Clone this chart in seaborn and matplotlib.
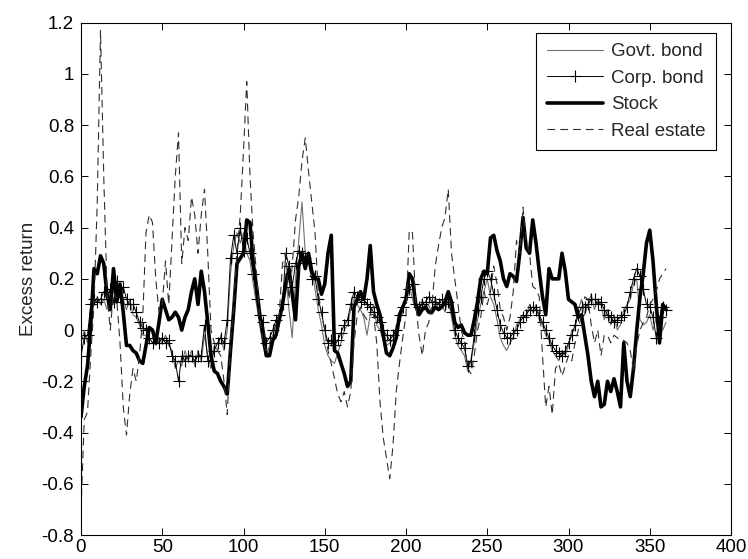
import matplotlib
matplotlib.use("Agg")
import matplotlib.pyplot as plt
import matplotlib.ticker as mticker
import numpy as np
import pandas as pd
import seaborn as sns

# ---------------- data (every 2nd month) ----------------
months = list(range(0, 361, 2))

stock = [
    -0.34, -0.22, -0.14, 0.02, 0.24, 0.22, 0.29, 0.26, 0.14, 0.08,
    0.24, 0.11, 0.18, 0.07, -0.06, -0.06, -0.08, -0.09, -0.12, -0.13,
    -0.06, 0.01, 0.0, -0.05, 0.03, 0.12, 0.08, 0.04, 0.05, 0.07,
    0.05, 0.0, 0.05, 0.08, 0.15, 0.2, 0.1, 0.23, 0.15, 0.03,
    -0.1, -0.16, -0.17, -0.2, -0.22, -0.25, -0.08, 0.08, 0.26, 0.28,
    0.3, 0.43, 0.42, 0.26, 0.17, 0.06, -0.02, -0.1, -0.1, -0.04,
    -0.02, 0.04, 0.1, 0.18, 0.24, 0.14, 0.04, 0.25, 0.3, 0.24,
    0.3, 0.23, 0.2, 0.2, 0.14, 0.18, 0.3, 0.37, -0.08, -0.09,
    -0.13, -0.17, -0.22, -0.2, 0.09, 0.12, 0.15, 0.12, 0.2, 0.33,
    0.15, 0.1, 0.06, -0.02, -0.09, -0.1, -0.07, -0.03, 0.06, 0.09,
    0.12, 0.22, 0.2, 0.1, 0.06, 0.08, 0.09, 0.07, 0.07, 0.09,
    0.08, 0.09, 0.11, 0.15, 0.11, 0.03, 0.01, 0.02, -0.01, -0.02,
    -0.02, 0.04, 0.11, 0.2, 0.23, 0.22, 0.36, 0.37, 0.31, 0.27,
    0.2, 0.17, 0.22, 0.21, 0.19, 0.3, 0.44, 0.32, 0.3, 0.43,
    0.34, 0.23, 0.13, 0.06, 0.24, 0.2, 0.2, 0.2, 0.3, 0.23,
    0.12, 0.11, 0.1, 0.05, 0.06, -0.02, -0.1, -0.2, -0.26, -0.2,
    -0.3, -0.29, -0.2, -0.24, -0.19, -0.24, -0.3, -0.05, -0.2, -0.26,
    -0.15, 0.0, 0.13, 0.22, 0.34, 0.39, 0.27, 0.1, -0.05, 0.1,
    0.08,
]

real_estate = [
    -0.7, -0.35, -0.32, -0.1, 0.1, 0.5, 1.17, 0.6, 0.15, 0.0,
    0.15, 0.12, -0.05, -0.3, -0.41, -0.25, -0.15, -0.2, -0.1, 0.05,
    0.38, 0.45, 0.42, 0.2, 0.07, 0.1, 0.27, 0.1, 0.35, 0.6,
    0.77, 0.26, 0.4, 0.35, 0.52, 0.45, 0.3, 0.45, 0.55, 0.3,
    0.0, -0.05, -0.08, -0.1, -0.2, -0.33, -0.05, 0.1, 0.31, 0.45,
    0.7, 0.97, 0.6, 0.37, 0.22, 0.05, -0.05, -0.08, -0.05, -0.02,
    0.03, 0.06, 0.26, 0.3, 0.12, 0.25, 0.43, 0.52, 0.66, 0.75,
    0.62, 0.5, 0.38, 0.15, 0.06, 0.0, -0.08, -0.13, -0.19, -0.25,
    -0.28, -0.24, -0.3, -0.24, -0.05, 0.06, 0.09, 0.06, 0.04, 0.06,
    0.06, -0.05, -0.28, -0.42, -0.5, -0.58, -0.45, -0.24, -0.13, -0.03,
    0.06, 0.39, 0.38, 0.1, -0.02, -0.1, 0.0, 0.03, 0.1, 0.25,
    0.33, 0.4, 0.44, 0.55, 0.3, 0.2, 0.1, 0.0, -0.05, -0.15,
    -0.17, -0.1, 0.0, 0.05, 0.15, 0.1, 0.15, 0.25, 0.18, 0.08,
    0.05, 0.0, 0.05, 0.15, 0.35, 0.3, 0.48, 0.34, 0.3, 0.17,
    0.16, 0.13, -0.1, -0.3, -0.22, -0.33, -0.15, -0.13, -0.18, -0.14,
    -0.1, -0.12, -0.05, 0.0, 0.06, 0.13, 0.12, 0.02, -0.05, 0.0,
    -0.1, -0.02, -0.02, -0.05, -0.02, -0.03, -0.04, -0.04, -0.05, -0.08,
    -0.16, -0.06, 0.0, 0.03, 0.05, 0.1, 0.12, 0.15, 0.2, 0.22,
    0.24,
]

corp_bond = [
    -0.1, -0.03, -0.02, 0.1, 0.12, 0.11, 0.12, 0.15, 0.12, 0.16,
    0.11, 0.19, 0.13, 0.17, 0.12, 0.1, 0.1, 0.07, 0.03, 0.01,
    0.0, -0.03, -0.05, -0.03, -0.05, -0.03, -0.05, -0.04, -0.1, -0.12,
    -0.2, -0.1, -0.12, -0.1, -0.1, -0.12, -0.1, -0.1, 0.02, -0.12,
    -0.12, -0.08, -0.05, -0.03, -0.05, 0.04, 0.28, 0.37, 0.3, 0.4,
    0.31, 0.36, 0.3, 0.22, 0.12, 0.06, 0.03, -0.05, -0.03, 0.0,
    0.04, 0.06, 0.1, 0.3, 0.25, 0.17, 0.26, 0.31, 0.3, 0.28,
    0.26, 0.2, 0.21, 0.12, 0.07, 0.0, -0.05, -0.04, -0.06, -0.04,
    -0.01, 0.02, 0.04, 0.1, 0.15, 0.13, 0.11, 0.12, 0.1, 0.09,
    0.07, 0.05, 0.03, 0.0, -0.02, -0.04, -0.02, 0.0, 0.06, 0.09,
    0.13, 0.16, 0.18, 0.1, 0.09, 0.1, 0.11, 0.13, 0.11, 0.11,
    0.1, 0.12, 0.1, 0.11, 0.07, 0.0, -0.03, -0.05, -0.07, -0.14,
    -0.12, -0.02, 0.08, 0.13, 0.2, 0.23, 0.2, 0.14, 0.08, 0.02,
    -0.01, -0.03, -0.03, -0.01, 0.0, 0.03, 0.05, 0.06, 0.08, 0.09,
    0.08, 0.06, 0.03, 0.0, -0.03, -0.06, -0.08, -0.09, -0.1, -0.08,
    -0.05, -0.02, 0.02, 0.06, 0.09, 0.09, 0.1, 0.12, 0.12, 0.1,
    0.11, 0.08, 0.06, 0.05, 0.03, 0.04, 0.05, 0.06, 0.09, 0.15,
    0.2, 0.24, 0.21, 0.16, 0.1, 0.09, 0.05, -0.03, 0.05, 0.09,
    0.08,
]

govt_bond = [
    -0.05, 0.0, -0.05, 0.08, 0.1, 0.13, 0.1, 0.12, 0.08, 0.14,
    0.1, 0.16, 0.15, 0.12, 0.08, 0.12, 0.06, 0.05, 0.02, -0.02,
    -0.02, -0.04, -0.03, -0.06, -0.03, -0.05, -0.02, -0.06, -0.08, -0.15,
    -0.12, -0.14, -0.08, -0.12, -0.08, -0.14, -0.08, -0.12, -0.02, -0.1,
    -0.15, -0.06, -0.08, -0.02, -0.08, 0.0, 0.22, 0.33, 0.38, 0.34,
    0.38, 0.3, 0.27, 0.18, 0.1, 0.02, -0.06, -0.1, -0.06, -0.02,
    0.02, 0.04, 0.12, 0.22, 0.08, -0.03, 0.2, 0.35, 0.5, 0.3,
    0.3, 0.24, 0.16, 0.08, 0.02, -0.06, -0.1, -0.12, -0.13, -0.09,
    -0.05, 0.0, 0.02, 0.08, 0.12, 0.1, 0.08, 0.05, -0.02, 0.06,
    0.1, 0.02, 0.0, -0.04, -0.06, -0.05, -0.04, 0.02, 0.03, 0.07,
    0.15, 0.18, 0.12, 0.08, 0.06, 0.12, 0.08, 0.1, 0.06, 0.13,
    0.08, 0.1, 0.07, 0.12, 0.05, -0.02, -0.06, -0.08, -0.1, -0.16,
    -0.12, -0.05, 0.04, 0.1, 0.15, 0.2, 0.13, 0.1, 0.04, -0.03,
    -0.06, -0.08, -0.05, -0.03, 0.02, 0.04, 0.06, 0.05, 0.1, 0.07,
    0.1, 0.04, 0.02, -0.02, -0.04, -0.08, -0.1, -0.12, -0.08, -0.1,
    -0.06, 0.0, 0.0, 0.08, 0.12, 0.06, 0.1, 0.14, 0.08, 0.12,
    0.1, 0.04, 0.08, 0.02, 0.06, 0.0, 0.02, 0.08, 0.1, 0.12,
    0.18, 0.2, 0.04, 0.02, 0.03, 0.06, 0.0, 0.05, 0.02, 0.0,
    0.03,
]

x_ticks = [0, 50, 100, 150, 200, 250, 300, 350, 400]
y_ticks = [-0.8, -0.6, -0.4, -0.2, 0, 0.2, 0.4, 0.6, 0.8, 1.0, 1.2]
y_label = "Excess return"

# ---------------- styling ----------------
sns.set_style("ticks")
plt.rcParams["font.family"] = ["Liberation Sans", "DejaVu Sans"]
plt.rcParams["axes.unicode_minus"] = False
FS = 13.5
plt.rcParams["font.size"] = FS

fig = plt.figure(figsize=(7.48, 5.59), dpi=100)
ax = fig.add_axes([81 / 748, 24 / 559, 650 / 748, 512.3 / 559])

df = pd.DataFrame({"month": months, "govt": govt_bond, "corp": corp_bond,
                   "stock": stock, "real": real_estate})

sns.lineplot(data=df, x="month", y="govt", ax=ax, color="#707070",
             linewidth=0.8, label="Govt. bond")
sns.lineplot(data=df, x="month", y="corp", ax=ax, color="black",
             linewidth=0.7, marker="+", markersize=9, markeredgewidth=0.8,
             markeredgecolor="black", label="Corp. bond")
sns.lineplot(data=df, x="month", y="stock", ax=ax, color="black",
             linewidth=2.6, label="Stock")
sns.lineplot(data=df, x="month", y="real", ax=ax, color="#303030",
             linewidth=0.8, dashes=False, label="Real estate")
ax.lines[-1].set_linestyle((0, (7, 4.5)))

ax.set_xlim(0, 400)
ax.set_ylim(-0.8, 1.2)
ax.set_xticks(x_ticks)
ax.set_yticks(y_ticks)
ax.yaxis.set_major_formatter(mticker.FormatStrFormatter("%g"))
ax.xaxis.set_major_formatter(mticker.FormatStrFormatter("%g"))
ax.set_xlabel("")
ax.set_ylabel(y_label, fontsize=FS, labelpad=3)
ax.tick_params(direction="in", length=5, width=0.7, top=True, right=True,
               labelsize=FS, colors="black")
ax.tick_params(axis="y", pad=5)
ax.tick_params(axis="x", pad=3)
for s in ax.spines.values():
    s.set_visible(True)
    s.set_linewidth(0.8)
    s.set_color("black")

leg = ax.legend(loc="upper right", bbox_to_anchor=(0.977, 0.98),
                borderaxespad=0, fancybox=False, framealpha=1,
                edgecolor="black", fontsize=FS, handlelength=3.0,
                handletextpad=0.45, labelspacing=0.5, borderpad=0.55,
                numpoints=1)
leg.get_frame().set_linewidth(0.8)

fig.savefig("out.png", dpi=100)
